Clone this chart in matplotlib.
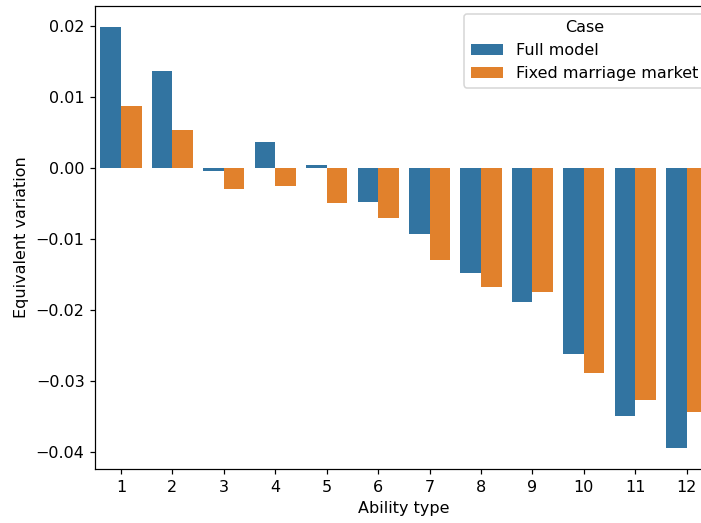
import matplotlib
matplotlib.use('Agg')
import matplotlib.pyplot as plt
import seaborn as sns
import pandas as pd

# equivalent variation per ability type
ability = [1, 2, 3, 4, 5, 6, 7, 8, 9, 10, 11, 12]
full_model = [0.0199, 0.0137, -0.0004, 0.0037, 0.0005, -0.0048, -0.0093,
              -0.0147, -0.0189, -0.0262, -0.0349, -0.0394]
fixed_market = [0.0087, 0.0053, -0.0029, -0.0025, -0.0049, -0.0070, -0.0129,
                -0.0167, -0.0174, -0.0288, -0.0327, -0.0344]
cases = ['Full model', 'Fixed marriage market']

df = pd.DataFrame({
    'Ability type': ability * 2,
    'Equivalent variation': full_model + fixed_market,
    'Case': [cases[0]] * len(ability) + [cases[1]] * len(ability),
})

plt.rcParams['font.size'] = 10.5

dpi = 110
fig = plt.figure(figsize=(701 / dpi, 523 / dpi), dpi=dpi)
ax = fig.add_axes([95.3 / 701, 54 / 523, (712.4 - 95.3) / 701, (469 - 5.7) / 523])

sns.barplot(data=df, x='Ability type', y='Equivalent variation', hue='Case',
            hue_order=cases, ax=ax)
ax.legend(title='Case', loc='upper right')

fig.savefig('out.png', dpi=dpi)
